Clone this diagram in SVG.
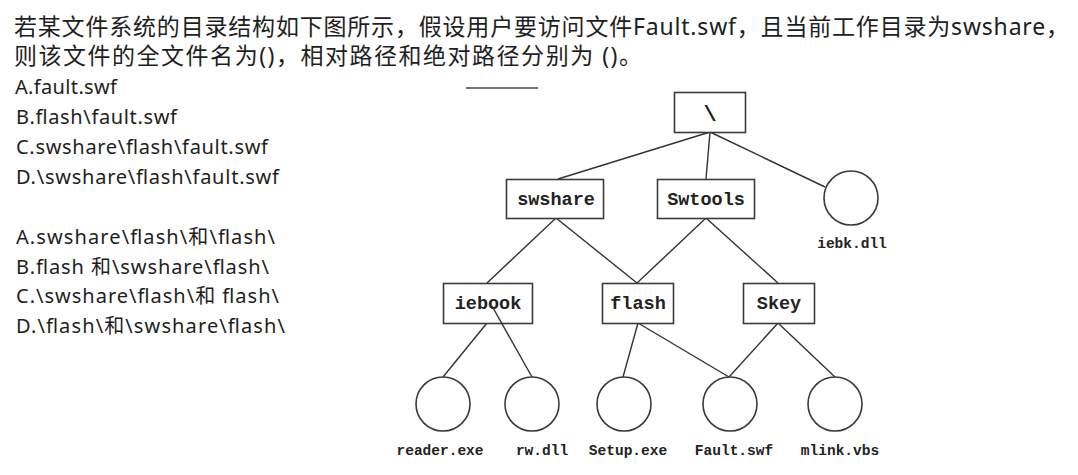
<svg xmlns="http://www.w3.org/2000/svg" width="1078" height="475" viewBox="0 0 1078 475">
<style>
.q{font-family:"Noto Sans","Noto Sans CJK SC",sans-serif;font-size:23px;fill:#1e1e1e}
.o{font-family:"Noto Sans","Noto Sans CJK SC",sans-serif;font-size:20px;fill:#1e1e1e}
.box{fill:#fff;stroke:#3a3a3a;stroke-width:1.6}
.cir{fill:#fff;stroke:#3a3a3a;stroke-width:1.6}
.lbl{font-family:"Liberation Mono",monospace;font-size:18.5px;font-weight:bold;fill:#222;text-anchor:middle}
.fl{font-family:"Liberation Mono",monospace;font-size:14.5px;font-weight:bold;fill:#222;text-anchor:middle}
.c line{stroke:#333;stroke-width:1.4}
</style>
<rect width="1078" height="475" fill="#fff"/>
<g id="question">
<text class="q" x="14" y="35" textLength="1055" lengthAdjust="spacing">若某文件系统的目录结构如下图所示，假设用户要访问文件Fault.swf，且当前工作目录为swshare，</text>
<text class="q" x="14" y="64" textLength="628" lengthAdjust="spacing">则该文件的全文件名为()，相对路径和绝对路径分别为 ()。</text>
</g>
<g id="options">
<text class="o" x="15" y="94" textLength="102" lengthAdjust="spacing">A.fault.swf</text>
<text class="o" x="16" y="124" textLength="161" lengthAdjust="spacing">B.flash\fault.swf</text>
<text class="o" x="16" y="154" textLength="252" lengthAdjust="spacing">C.swshare\flash\fault.swf</text>
<text class="o" x="16" y="184" textLength="263" lengthAdjust="spacing">D.\swshare\flash\fault.swf</text>
<text class="o" x="16" y="244" textLength="259" lengthAdjust="spacing">A.swshare\flash\和\flash\</text>
<text class="o" x="16" y="274" textLength="253" lengthAdjust="spacing">B.flash 和\swshare\flash\</text>
<text class="o" x="16" y="303" textLength="263" lengthAdjust="spacing">C.\swshare\flash\和 flash\</text>
<text class="o" x="16" y="333" textLength="269" lengthAdjust="spacing">D.\flash\和\swshare\flash\</text>
</g>
<line x1="466" y1="88" x2="538" y2="88" stroke="#444" stroke-width="1.6"/>
<g id="connectors" class="c">
<line x1="710" y1="132" x2="558" y2="179"/>
<line x1="710" y1="132" x2="706" y2="179"/>
<line x1="710" y1="132" x2="825" y2="187"/>
<line x1="556" y1="218" x2="487" y2="283"/>
<line x1="556" y1="218" x2="637" y2="283"/>
<line x1="706" y1="218" x2="637" y2="283"/>
<line x1="706" y1="218" x2="778" y2="283"/>
<line x1="487" y1="323" x2="443" y2="377"/>
<line x1="638" y1="323" x2="623" y2="377"/>
<line x1="638" y1="323" x2="729" y2="377"/>
<line x1="778" y1="323" x2="729" y2="377"/>
<line x1="778" y1="323" x2="835" y2="377"/>
</g>
<g id="root"><rect class="box" x="674.5" y="92.5" width="71" height="40"/><text class="lbl" x="710" y="121" style="font-size:22px">\</text></g>
<g id="swshare"><rect class="box" x="506.5" y="179.5" width="97" height="39"/><text class="lbl" x="556" y="205">swshare</text></g>
<g id="swtools"><rect class="box" x="657.5" y="179.5" width="97" height="39"/><text class="lbl" x="706" y="205">Swtools</text></g>
<g id="iebk"><circle class="cir" cx="851" cy="198" r="27"/><text class="fl" x="852" y="248">iebk.dll</text></g>
<g id="iebook"><rect class="box" x="443.5" y="283.5" width="89" height="40"/><text class="lbl" x="488" y="309">iebook</text></g>
<g id="flash"><rect class="box" x="602.5" y="283.5" width="71" height="40"/><text class="lbl" x="638" y="309">flash</text></g>
<g id="skey"><rect class="box" x="743.5" y="283.5" width="71" height="40"/><text class="lbl" x="779" y="309">Skey</text></g>
<g id="connector-rw" class="c"><line x1="492" y1="306" x2="532" y2="377"/></g>
<g id="reader"><circle class="cir" cx="443" cy="404" r="27"/><text class="fl" x="440" y="455">reader.exe</text></g>
<g id="rw"><circle class="cir" cx="532" cy="404" r="27"/><text class="fl" x="542" y="455">rw.dll</text></g>
<g id="setup"><circle class="cir" cx="624" cy="404" r="27"/><text class="fl" x="628" y="455">Setup.exe</text></g>
<g id="fault"><circle class="cir" cx="730" cy="404" r="27"/><text class="fl" x="734" y="455">Fault.swf</text></g>
<g id="mlink"><circle class="cir" cx="835" cy="404" r="27"/><text class="fl" x="840" y="455">mlink.vbs</text></g>
</svg>
